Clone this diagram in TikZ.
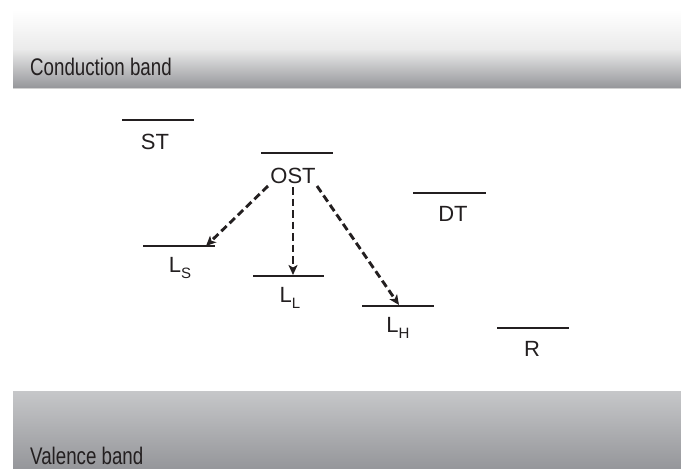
\documentclass[tikz,border=0pt]{standalone}
\usepackage{fontspec}
\setmainfont{Liberation Sans}
\usetikzlibrary{arrows.meta}
\definecolor{bandlight}{HTML}{C6C7C9}
\definecolor{banddark}{HTML}{95969A}
\definecolor{ink}{HTML}{231F20}
\tikzset{
  level/.style={line width=2.8pt, ink},
  lab/.style={font=\fontsize{22}{22}\selectfont, text=ink, inner sep=0pt, anchor=base},
  bandlab/.style={font=\fontsize{24}{24}\selectfont, inner sep=0pt, anchor=base west, text=ink},
  trans/.style={ink, line width=2.9pt, dash pattern=on 7.5pt off 4pt, -{Stealth[length=10pt,width=9pt,inset=2.5pt]}},
}
\newcommand{\sbs}[1]{\raisebox{-6pt}{\fontsize{15}{15}\selectfont #1}}
\begin{document}
\begin{tikzpicture}[x=1pt,y=-1pt]
\useasboundingbox (0,0) rectangle (681,469);
% bands
\shade[top color=white, bottom color=banddark, middle color=black!8] (13,10) rectangle (681,88);
\draw[black!18, line width=1.2pt] (13,88.6) -- (681,88.6);
\shade[top color=bandlight, bottom color=banddark] (13,391) rectangle (681,469);
\node[bandlab] (cb) at (30,75) {\scalebox{0.78}[1]{Conduction band}};
\node[bandlab] (vb) at (30,464) {\scalebox{0.78}[1]{Valence band}};
% levels
\draw[level] (122,120) coordinate (STa) -- (194,120) coordinate (STb);
\draw[level] (261,153) coordinate (OSTa) -- (333,153) coordinate (OSTb);
\draw[level] (413,193) coordinate (DTa) -- (486,193) coordinate (DTb);
\draw[level] (143,246) coordinate (LSa) -- (215,246) coordinate (LSb);
\draw[level] (253,276) coordinate (LLa) -- (324,276) coordinate (LLb);
\draw[level] (362,306) coordinate (LHa) -- (434,306) coordinate (LHb);
\draw[level] (497,328) coordinate (Ra) -- (569,328) coordinate (Rb);
% labels
\node[lab] (ST) at (155,149) {ST};
\node[lab] (OST) at (293,183) {OST};
\node[lab] (DT) at (453,221) {DT};
\node[lab] (LS) at (180,272) {L\sbs{S}};
\node[lab] (LL) at (290,302) {L\sbs{L}};
\node[lab] (LH) at (398,332) {L\sbs{H}};
\node[lab] (R) at (532,356) {R};
% transitions
\coordinate (s1) at (268,186);
\coordinate (s2) at (293,187);
\coordinate (s3) at (317,186);
\coordinate (e1) at (206,246);
\coordinate (e2) at (293,275);
\coordinate (e3) at (399,305);
\draw[trans] (s1) -- (e1);
\draw[trans] (s2) -- (e2);
\draw[trans] (s3) -- (e3);
\end{tikzpicture}
\end{document}
